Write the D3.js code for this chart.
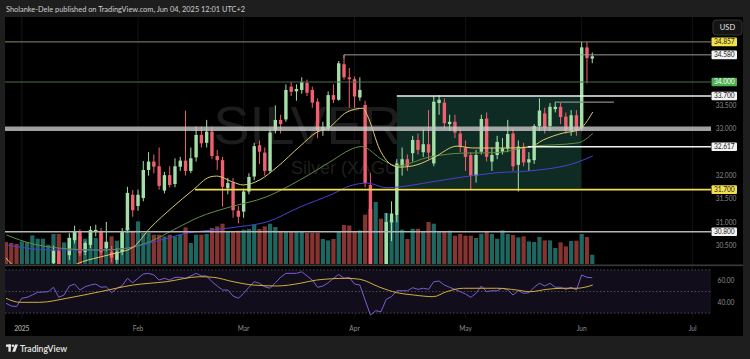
<!DOCTYPE html>
<html>
<head>
<meta charset="utf-8">
<script src="https://cdn.jsdelivr.net/npm/d3@7"></script>
<style>
  html, body { margin: 0; padding: 0; background: #1e1e1e; }
  svg { display: block; font-family: "Lato", "Noto Sans", sans-serif; }
</style>
</head>
<body>
<svg id="chart" width="750" height="359"></svg>
<script>
// ---- data (bar 0 = 2024-12-27, weekdays, holidays skipped) ----
var firstDay = new Date(2024, 11, 27);
var holidays = ['2025-01-01', '2025-04-18'];

var opens = [
	29.55, 29.4, 28.95, 28.9, 29.6, 29.7, 29.75, 29.8, 29.85, 30.13,
	30.4, 29.75, 30.3, 30.62, 30.8, 30.37, 30.52, 30.8, 30.8, 30.45,
	30.37, 30.2, 30.37, 30.84, 31.59, 31.35, 31.52, 32.12, 32.3, 32.2,
	31.68, 32.01, 31.82, 32.19, 32.32, 32.1, 32.39, 32.87, 32.7, 32.94,
	32.42, 32.33, 31.73, 31.85, 31.25, 31.23, 31.66, 31.98, 32.65, 32.49,
	32.1, 32.96, 33.19, 33.2, 33.9, 33.8, 33.83, 33.98, 33.83, 33.58,
	32.97, 33.0, 33.72, 33.62, 34.38, 34.1, 34.06, 33.67, 33.51, 31.8,
	29.55, 29.9, 29.7, 31.0, 31.15, 32.2, 32.35, 32.48, 32.76, 32.5,
	32.67, 32.26, 33.55, 33.56, 33.1, 33.15, 32.9, 32.6, 32.44, 32.0,
	32.51, 33.22, 32.3, 32.44, 32.51, 32.58, 32.9, 32.23, 32.62, 32.28,
	32.33, 33.06, 33.33, 33.06, 33.42, 33.47, 33.26, 32.96, 33.29, 33.01,
	34.74, 34.5
];
var highs = [
	29.75, 29.45, 29.15, 29.7, 29.95, 30.05, 30.05, 30.05, 30.1, 30.5,
	30.45, 30.05, 30.77, 30.93, 30.85, 30.6, 30.92, 30.95, 30.88, 31.01,
	30.5, 30.45, 30.88, 31.76, 31.69, 31.7, 32.31, 32.5, 32.45, 32.6,
	32.08, 32.2, 32.37, 32.4, 33.39, 32.6, 33.05, 33.05, 33.19, 33.05,
	32.55, 32.4, 31.95, 31.95, 31.35, 31.72, 32.05, 32.7, 32.75, 32.6,
	33.0, 33.5, 33.3, 33.95, 34.0, 33.95, 34.1, 34.05, 33.9, 33.65,
	33.15, 33.8, 33.95, 34.45, 34.58, 34.3, 34.12, 34.1, 33.6, 32.05,
	30.05, 30.05, 31.2, 31.45, 32.35, 32.6, 32.45, 32.85, 32.9, 33.0,
	33.4, 33.7, 33.72, 33.65, 33.3, 33.3, 33.0, 32.75, 32.5, 32.55,
	33.3, 33.35, 32.6, 32.85, 32.8, 33.19, 33.0, 32.75, 32.7, 32.5,
	33.1, 33.65, 33.45, 33.55, 33.58, 33.55, 33.35, 33.4, 33.4, 34.86,
	34.86, 34.63
];
var lows = [
	29.3, 28.8, 28.75, 28.85, 29.45, 29.55, 29.55, 29.6, 29.7, 30.0,
	29.65, 29.6, 30.2, 30.55, 30.28, 30.3, 30.45, 30.7, 30.3, 30.38,
	30.15, 30.12, 30.3, 30.78, 31.12, 31.25, 31.45, 32.0, 32.05, 31.7,
	31.62, 31.75, 31.75, 32.1, 32.0, 32.05, 32.3, 32.6, 32.6, 32.35,
	32.12, 31.34, 31.6, 31.1, 30.98, 31.1, 31.6, 31.9, 32.25, 32.0,
	32.05, 32.9, 32.9, 33.15, 33.7, 33.6, 33.75, 33.7, 33.45, 32.8,
	32.85, 32.95, 33.55, 33.6, 34.05, 33.45, 33.45, 33.6, 31.75, 29.2,
	28.3, 29.4, 29.5, 30.6, 31.0, 32.0, 32.1, 32.3, 32.45, 32.4,
	32.35, 32.2, 33.3, 33.0, 32.95, 32.8, 32.5, 32.1, 31.7, 31.85,
	32.45, 32.3, 32.1, 32.35, 32.45, 32.5, 32.1, 31.66, 32.2, 32.1,
	32.25, 32.95, 32.9, 32.95, 33.35, 33.1, 32.9, 32.85, 32.85, 32.95,
	33.97, 34.4
];
var closes = [
	29.4, 28.95, 28.9, 29.6, 29.7, 29.9, 29.9, 29.95, 30.0, 30.4,
	29.75, 29.95, 30.67, 30.8, 30.34, 30.56, 30.84, 30.84, 30.36, 30.58,
	30.24, 30.37, 30.8, 31.63, 31.26, 31.59, 32.12, 32.3, 32.19, 31.78,
	32.01, 31.8, 32.2, 32.32, 32.1, 32.37, 32.87, 32.69, 32.94, 32.42,
	32.33, 31.76, 31.84, 31.26, 31.12, 31.66, 31.97, 32.63, 32.51, 32.1,
	32.92, 33.19, 33.1, 33.83, 33.79, 33.85, 34.0, 33.77, 33.56, 32.97,
	33.04, 33.72, 33.62, 34.4, 34.1, 34.06, 33.69, 33.83, 31.84, 29.6,
	29.85, 29.65, 31.01, 31.19, 32.26, 32.35, 32.2, 32.76, 32.55, 32.67,
	32.49, 33.58, 33.62, 33.12, 33.15, 32.92, 32.62, 32.4, 31.99, 32.44,
	33.21, 32.4, 32.44, 32.72, 32.58, 32.89, 32.2, 32.62, 32.28, 32.35,
	33.06, 33.39, 33.03, 33.47, 33.47, 33.25, 32.96, 33.29, 32.97, 34.74,
	34.51, 34.55
];
var volumes = [
	22, 21, 20, 22.6, 22, 28.6, 25.3, 25.3, 19.3, 30,
	30, 21.6, 26, 32.6, 28, 25.3, 33.3, 26, 31, 22.6,
	27.6, 23.3, 31, 36, 33.3, 42.6, 31, 31, 29.3, 29.3,
	27.6, 29.3, 27.6, 29.3, 36.6, 21, 29.3, 29.3, 30, 36,
	37.6, 40.3, 32.6, 32.6, 33.3, 34.3, 35, 39.3, 35, 37.6,
	40.3, 37, 32.6, 32.6, 32.6, 32.6, 32.6, 31, 31, 31,
	25, 23.6, 25, 32.6, 39, 38.5, 32.6, 33.6, 49.3, 55,
	62, 45.3, 51, 44, 48.3, 34.3, 25, 35.3, 35.3, 32,
	42, 40.3, 32.6, 32.6, 33.3, 28.3, 30, 28.3, 28.3, 26,
	30.3, 32.6, 30, 25.3, 33.6, 30, 29, 26.6, 27.6, 22.6,
	22, 27, 23.6, 23.6, 16, 21.6, 17.6, 23, 23.3, 30,
	27, 9.3
];
var rsi = [
	39.1, 36.6, 36, 43.7, 44.6, 46.8, 49.3, 49.5, 49.8, 53.9,
	44.6, 46.8, 55.1, 56.9, 51.4, 54.4, 56, 56.9, 53.9, 54.4,
	48.9, 53, 55.4, 62.2, 58.1, 62.2, 66.2, 66.8, 65.3, 60.6,
	62.2, 60.6, 63.1, 63.1, 62.2, 64.4, 66.8, 64.4, 64.4, 59.1,
	55.1, 51.4, 51.4, 45.8, 43.7, 48.3, 53.9, 59.1, 57.6, 54.4,
	53, 58.1, 63.1, 66.8, 66.8, 66.8, 68.3, 64.4, 60.6, 53.9,
	55, 58.1, 62.2, 65.8, 62.2, 63.1, 56.9, 56, 42.1, 28.2,
	32.2, 31.3, 42.8, 45.2, 50.7, 50.7, 50.7, 53.5, 52, 53,
	52, 59.1, 59.7, 56, 53.9, 52, 49.8, 47.7, 44.6, 48.3,
	55.1, 49.8, 50.7, 50.7, 53, 51.4, 46.8, 50.7, 48.3, 48.9,
	53.9, 57.6, 55.1, 57.6, 53.9, 53.9, 52, 53.9, 51.4, 65.3,
	63.1, 62.8
];

// moving averages: [bar, value]
var maFast = [[0, 30.24], [1.5, 30.07], [6.4, 29.88], [12.1, 30.03], [13.4, 30.11], [17.8, 30.26], [21, 30.35], [24.1, 30.47], [27.3, 30.88], [31.6, 31.33], [35.4, 31.69], [38.6, 31.97], [39.9, 31.99], [43, 31.86], [44.9, 31.8], [48.1, 31.91], [51.3, 32.18], [55.7, 32.63], [58.9, 32.93], [60.8, 33.0], [64.6, 33.36], [67.6, 33.44], [68.4, 33.29], [70.8, 32.55], [73.3, 32.21], [74.6, 32.18], [77.8, 32.23], [80.9, 32.38], [85.4, 32.63], [88.4, 32.59], [91.6, 32.59], [95.4, 32.59], [99.2, 32.61], [101.7, 32.76], [105.5, 32.91], [108.3, 32.97], [111.1, 33.36]];
var maMid = [[0.1, 30.73], [5.1, 30.54], [10.2, 30.45], [17.8, 30.41], [22.9, 30.45], [27.3, 30.59], [31.7, 30.84], [36.7, 31.12], [41.8, 31.31], [49.4, 31.55], [55.7, 31.91], [61.9, 32.33], [65.1, 32.55], [67.3, 32.62], [71.4, 32.33], [74, 32.21], [80.3, 32.4], [86.5, 32.48], [92.8, 32.49], [99.2, 32.62], [108.3, 32.7], [111.1, 32.9]];
var maSlow = [[0.1, 30.52], [8.3, 30.41], [17.8, 30.41], [24.1, 30.47], [29.2, 30.62], [34.3, 30.77], [39.2, 30.84], [44.3, 30.91], [49.4, 31.01], [55.7, 31.33], [61.9, 31.61], [65.1, 31.78], [68.4, 31.84], [72.1, 31.74], [74.6, 31.76], [80.3, 31.86], [86.5, 31.97], [92.8, 32.06], [99.2, 32.1], [108.3, 32.29], [111.1, 32.42]];
var rsiMa = [[0, 43.7], [2.7, 40], [6.4, 40], [11.5, 43.7], [17.8, 49.8], [24.1, 56], [30.4, 59.1], [36.7, 63.7], [39.3, 63.1], [43, 59.1], [46.8, 56], [51.3, 55.1], [55.7, 57.6], [58.8, 60.6], [64.5, 62.2], [67, 61.3], [70.8, 53.9], [74, 48.9], [77.1, 46.8], [80.9, 45.2], [83.4, 49.8], [86.6, 53], [89.7, 53], [92.9, 53], [96.7, 51.4], [99.2, 49.8], [102.4, 52], [105.5, 53], [108.1, 53], [111.1, 56]];

// drawn levels: price, first bar, last bar (null = chart edge)
var levelPrices = [34.857, 34.58, 34.0, 33.7, 33.57, 33.0, 32.617, 31.7, 30.8];
var levelFrom   = [null, 64, null, 74, 104, null, 98.8, 35.8, null];
var levelTo     = [null, null, null, null, 115.1, null, null, null, null];
var boxBars   = [74, 108.9];
var boxPrices = [33.7, 31.73];

var priceTicks = [30.5, 31, 31.5, 32, 33, 33.5];
var rsiLines   = [70, 50, 30];
var rsiTicks   = [60, 40];

// ---- chart ----
(function () {
	'use strict';

	var svg = d3.select('#chart');
	var pane = { left: 5, right: 711, top: 17, bottom: 264 };
	var rsiPane = { top: 266, bottom: 318 };

	var fmtDay = d3.timeFormat('%Y-%m-%d');
	var days = d3.timeDay.range(firstDay, new Date(2025, 6, 15)).filter(function (d) {
		return d.getDay() !== 0 && d.getDay() !== 6 && holidays.indexOf(fmtDay(d)) < 0;
	});

	var x = d3.scaleLinear().domain([3, 109]).range([21.8, 581.7]);
	var y = d3.scaleLinear().domain([30.5, 34]).range([245.8, 82]);
	var yVol = d3.scaleLinear().domain([0, 62]).range([pane.bottom, 202]);
	var yRsi = d3.scaleLinear().domain([30, 70]).range([313.1, 269.9]);

	var up = '#a3dfa6', down = '#f0606e';

	// backgrounds
	svg.append('rect').attr('width', 750).attr('height', 359).attr('fill', '#1e1e1e');
	svg.append('rect').attr('x', 5).attr('y', 17).attr('width', 738).attr('height', 319).attr('fill', '#000');

	var defs = svg.append('defs');
	defs.append('clipPath').attr('id', 'clipPrice').append('rect')
		.attr('x', pane.left).attr('y', pane.top).attr('width', pane.right - pane.left).attr('height', pane.bottom - pane.top);
	defs.append('clipPath').attr('id', 'clipRsi').append('rect')
		.attr('x', pane.left).attr('y', rsiPane.top).attr('width', pane.right - pane.left).attr('height', rsiPane.bottom - rsiPane.top);

	// month starts
	var months = [];
	days.forEach(function (d, i) {
		if (i > 0 && d.getMonth() !== days[i - 1].getMonth() && d.getFullYear() === 2025) {
			months.push({ i: i, d: d });
		}
	});
	if (days[3].getMonth() === 0) { months.unshift({ i: 3, d: days[3] }); }

	svg.append('g').selectAll('line').data(months).enter().append('line')
		.attr('x1', function (m) { return x(m.i); }).attr('x2', function (m) { return x(m.i); })
		.attr('y1', pane.top).attr('y2', rsiPane.bottom)
		.attr('stroke', '#121212').attr('stroke-width', 1);

	// watermark
	svg.append('text').attr('x', 357).attr('y', 144).attr('text-anchor', 'middle')
		.attr('font-family', 'Liberation Sans, Arial, sans-serif').attr('font-size', 54)
		.attr('fill', '#1d1d1d').text('SILVER, 1D');
	svg.append('text').attr('x', 360).attr('y', 174).attr('text-anchor', 'middle')
		.attr('font-family', 'Liberation Sans, Arial, sans-serif').attr('font-size', 18)
		.attr('fill', '#1f1f1f').text('Silver (XAGUSD)');

	var price = svg.append('g').attr('clip-path', 'url(#clipPrice)');

	// range box
	price.append('rect')
		.attr('x', x(boxBars[0])).attr('y', y(boxPrices[0]))
		.attr('width', x(boxBars[1]) - x(boxBars[0])).attr('height', y(boxPrices[1]) - y(boxPrices[0]))
		.attr('fill', '#0f2c24');

	var bars = d3.range(opens.length);
	var isUp = function (i) { return closes[i] >= opens[i]; };

	// volume
	price.append('g').selectAll('rect').data(bars).enter().append('rect')
		.attr('x', function (i) { return x(i) - 2.1; })
		.attr('width', 4.2)
		.attr('y', function (i) { return yVol(volumes[i]); })
		.attr('height', function (i) { return pane.bottom - yVol(volumes[i]); })
		.attr('fill', function (i) { return isUp(i) ? '#1d6760' : '#863432'; });

	// candles
	var candles = price.append('g').selectAll('g').data(bars).enter().append('g')
		.attr('fill', function (i) { return isUp(i) ? up : down; })
		.attr('stroke', function (i) { return isUp(i) ? up : down; });
	candles.append('line')
		.attr('x1', function (i) { return x(i); }).attr('x2', function (i) { return x(i); })
		.attr('y1', function (i) { return y(highs[i]); }).attr('y2', function (i) { return y(lows[i]); })
		.attr('stroke-width', 1);
	candles.append('rect')
		.attr('x', function (i) { return x(i) - 1.7; })
		.attr('width', 3.4)
		.attr('y', function (i) { return y(Math.max(opens[i], closes[i])); })
		.attr('height', function (i) { return Math.max(0.8, Math.abs(y(opens[i]) - y(closes[i]))); })
		.attr('stroke', 'none');

	// moving averages
	var maLine = d3.line().curve(d3.curveMonotoneX)
		.x(function (p) { return x(p[0]); }).y(function (p) { return y(p[1]); });
	[[maSlow, '#4b3fd6'], [maMid, '#5f8f45'], [maFast, '#dccc6c']].forEach(function (m) {
		price.append('path').attr('d', maLine(m[0])).attr('fill', 'none')
			.attr('stroke', m[1]).attr('stroke-width', 1);
	});

	// levels
	var levelStyle = [
		{ c: '#8f8b66', w: 1, box: '#f3e14b', t: '#222' },
		{ c: '#9a9a9a', w: 1, box: '#f2f2f2', t: '#222', tick: true },
		{ c: '#4f6e4f', w: 1, box: '#4caf50', t: '#fff' },
		{ c: '#f2f2f2', w: 1.6, box: '#f2f2f2', t: '#222' },
		{ c: '#8a8a8a', w: 1.4, tick: true },
		{ c: 'rgba(200,200,200,0.8)', w: 4.5 },
		{ c: '#f2f2f2', w: 1.6, box: '#f2f2f2', t: '#222' },
		{ c: '#f2df4f', w: 1.6, box: '#f2df4f', t: '#222' },
		{ c: '#b5b5b5', w: 1.4, box: '#f2f2f2', t: '#222' }
	];
	var levels = svg.append('g');
	levelPrices.forEach(function (p, k) {
		var s = levelStyle[k];
		var x1 = levelFrom[k] === null ? pane.left : x(levelFrom[k]);
		var x2 = levelTo[k] === null ? pane.right : x(levelTo[k]);
		levels.append('line').attr('x1', x1).attr('x2', x2).attr('y1', y(p)).attr('y2', y(p))
			.attr('stroke', s.c).attr('stroke-width', s.w);
		if (s.tick) {
			levels.append('line').attr('x1', x1).attr('x2', x1).attr('y1', y(p)).attr('y2', y(p) + 3.5)
				.attr('stroke', s.c).attr('stroke-width', 1);
		}
	});

	// pane separator
	svg.append('rect').attr('x', 5).attr('y', 264.5).attr('width', 738).attr('height', 1.6).attr('fill', '#3a3a3a');

	// price axis ticks
	var axisG = svg.append('g').attr('font-size', 6.6).attr('text-anchor', 'middle');
	axisG.selectAll('text.tick').data(priceTicks).enter().append('text')
		.attr('x', 726).attr('y', function (p) { return y(p) + 2.3; })
		.attr('fill', '#8c8c8c').text(function (p) { return d3.format('.3f')(p); });

	levelPrices.forEach(function (p, k) {
		var s = levelStyle[k];
		if (!s.box) { return; }
		axisG.append('rect').attr('x', 711.5).attr('y', y(p) - 4.3).attr('width', 25.5).attr('height', 8.6)
			.attr('rx', 1).attr('fill', s.box);
		axisG.append('text').attr('x', 724.3).attr('y', y(p) + 2.3).attr('fill', s.t)
			.text(d3.format('.3f')(p));
	});

	// USD box
	svg.append('rect').attr('x', 713).attr('y', 20).attr('width', 29).attr('height', 15).attr('rx', 3)
		.attr('fill', '#141414').attr('stroke', '#333');
	svg.append('text').attr('x', 727.5).attr('y', 30).attr('text-anchor', 'middle')
		.attr('font-size', 7.5).attr('fill', '#e6e6e6').text('USD');

	// RSI pane
	var rsiG = svg.append('g').attr('clip-path', 'url(#clipRsi)');
	rsiG.append('rect').attr('x', pane.left).attr('width', pane.right - pane.left)
		.attr('y', yRsi(70)).attr('height', yRsi(30) - yRsi(70)).attr('fill', '#110d1a');
	rsiG.selectAll('line').data(rsiLines).enter().append('line')
		.attr('x1', pane.left).attr('x2', pane.right)
		.attr('y1', function (v) { return yRsi(v); }).attr('y2', function (v) { return yRsi(v); })
		.attr('stroke', '#5c5a6e').attr('stroke-width', 0.8).attr('stroke-dasharray', '1.5,2');
	var rsiLine = d3.line().x(function (v, i) { return x(i); }).y(function (v) { return yRsi(v); });
	rsiG.append('path').attr('d', rsiLine(rsi)).attr('fill', 'none').attr('stroke', '#7b5fd0').attr('stroke-width', 1);
	var rsiMaLine = d3.line().curve(d3.curveMonotoneX)
		.x(function (p) { return x(p[0]); }).y(function (p) { return yRsi(p[1]); });
	rsiG.append('path').attr('d', rsiMaLine(rsiMa)).attr('fill', 'none').attr('stroke', '#d2ae3c').attr('stroke-width', 1);

	svg.append('g').attr('font-size', 6.6).attr('text-anchor', 'middle').attr('fill', '#8c8c8c')
		.selectAll('text').data(rsiTicks).enter().append('text')
		.attr('x', 726).attr('y', function (v) { return yRsi(v) + 2.3; })
		.text(function (v) { return d3.format('.2f')(v); });

	// time axis
	var fmtMonth = d3.timeFormat('%b');
	svg.append('g').attr('font-size', 6.6).attr('text-anchor', 'middle').attr('fill', '#8c8c8c')
		.selectAll('text').data(months).enter().append('text')
		.attr('x', function (m) { return x(m.i); }).attr('y', 330.5)
		.text(function (m) { return m.d.getMonth() === 0 ? String(m.d.getFullYear()) : fmtMonth(m.d); });

	// header and footer
	svg.append('text').attr('x', 6).attr('y', 12).attr('font-size', 7.4).attr('fill', '#d0d0d0')
		.text('Sholanke-Dele published on TradingView.com, Jun 04, 2025 12:01 UTC+2');

	var logo = svg.append('g').attr('fill', '#e8e8e8');
	logo.append('rect').attr('x', 6).attr('y', 344.5).attr('width', 5.2).attr('height', 2.3);
	logo.append('rect').attr('x', 8.4).attr('y', 344.5).attr('width', 2.4).attr('height', 7.2);
	logo.append('circle').attr('cx', 13).attr('cy', 345.7).attr('r', 1.2);
	logo.append('path').attr('d', 'M15,344.5 L18,344.5 L15.2,351.7 L12.2,351.7 Z');
	svg.append('text').attr('x', 20).attr('y', 351.6).attr('font-size', 8.6).attr('font-weight', 600)
		.attr('fill', '#e8e8e8').text('TradingView');
})();
</script>
</body>
</html>
